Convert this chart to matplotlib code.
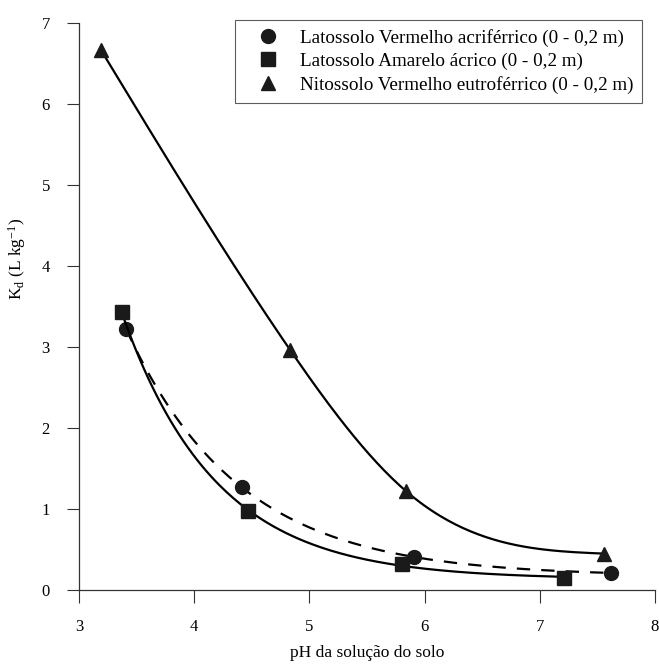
import numpy as np
import matplotlib
matplotlib.use("Agg")
import matplotlib.pyplot as plt

plt.rcParams['font.family'] = ['Liberation Serif', 'DejaVu Serif']
plt.rcParams['mathtext.fontset'] = 'custom'
plt.rcParams['mathtext.rm'] = 'Liberation Serif'
plt.rcParams['mathtext.it'] = 'Liberation Serif'

# Kd vs pH da solução do solo
ph_lva = [3.41, 4.41, 5.91, 7.62]
kd_lva = [3.22, 1.27, 0.41, 0.21]

ph_la = [3.37, 4.47, 5.80, 7.21]
kd_la = [3.43, 0.98, 0.32, 0.15]

ph_nv = [3.19, 4.83, 5.84, 7.56]
kd_nv = [6.67, 2.97, 1.22, 0.45]

labels = ['Latossolo Vermelho acriférrico (0 - 0,2 m)',
          'Latossolo Amarelo ácrico (0 - 0,2 m)',
          'Nitossolo Vermelho eutroférrico (0 - 0,2 m)']


def ajuste_exp(x, y):
    # y = a*exp(-b*x) + c, busca em b e mínimos quadrados em a, c
    x = np.asarray(x, float)
    y = np.asarray(y, float)
    melhor = None
    for b in np.linspace(0.05, 4.0, 4000):
        A = np.column_stack([np.exp(-b * x), np.ones_like(x)])
        coef, *_ = np.linalg.lstsq(A, y, rcond=None)
        sse = np.sum((A @ coef - y) ** 2)
        if melhor is None or sse < melhor[0]:
            melhor = (sse, coef[0], b, coef[1])
    _, a, b, c = melhor
    return lambda t: a * np.exp(-b * t) + c


def spline_natural(x, y):
    # spline cúbica natural (segunda derivada nula nas pontas)
    x = np.asarray(x, float)
    y = np.asarray(y, float)
    n = len(x)
    h = np.diff(x)
    d = np.diff(y) / h
    A = np.zeros((n, n))
    r = np.zeros(n)
    A[0, 0] = A[-1, -1] = 1.0
    for k in range(1, n - 1):
        A[k, k - 1] = h[k - 1]
        A[k, k] = 2 * (h[k - 1] + h[k])
        A[k, k + 1] = h[k]
        r[k] = 6 * (d[k] - d[k - 1])
    M = np.linalg.solve(A, r)

    def f(t):
        t = np.asarray(t, float)
        k = np.clip(np.searchsorted(x, t) - 1, 0, n - 2)
        a = x[k + 1] - t
        b = t - x[k]
        return (M[k] * a**3 / (6 * h[k]) + M[k + 1] * b**3 / (6 * h[k])
                + (y[k] / h[k] - M[k] * h[k] / 6) * a
                + (y[k + 1] / h[k] - M[k + 1] * h[k] / 6) * b)
    return f


fig = plt.figure(figsize=(6.59, 6.66), dpi=100)
ax = fig.add_axes([0.12, 0.114, 0.874, 0.851])

series = [
    (ph_lva, kd_lva, 'o', (0, (6, 5)), 10, ajuste_exp),
    (ph_la, kd_la, 's', '-', 9.5, ajuste_exp),
    (ph_nv, kd_nv, '^', '-', 10, spline_natural),
]

handles = []
for (x, y, mk, ls, ms, ajuste), lab in zip(series, labels):
    f = ajuste(x, y)
    xs = np.linspace(min(x), max(x), 200)
    ax.plot(xs, f(xs), color='black', lw=1.6, linestyle=ls)
    h, = ax.plot(x, y, linestyle='none', marker=mk, ms=ms, color='#1a1a1a',
                 mec='#1a1a1a', label=lab)
    handles.append(h)

ax.set_xlim(3, 8)
ax.set_ylim(0, 7)
ax.set_xticks(range(3, 9))
ax.set_yticks(range(0, 8))
ax.spines['top'].set_visible(False)
ax.spines['right'].set_visible(False)
for s in ('left', 'bottom'):
    ax.spines[s].set_linewidth(0.9)
    ax.spines[s].set_color('#333333')
ax.tick_params(direction='out', length=9, width=0.8, colors='#333333',
               labelsize=12, labelcolor='black', pad=12)

ax.set_xlabel('pH da solução do solo', fontsize=12.5, labelpad=7)
ax.set_ylabel(r'K$_\mathrm{d}$ (L kg$^\mathrm{-1}$)', fontsize=12.5)
ax.yaxis.set_label_coords(-0.088, 0.585)

leg = ax.legend(handles=handles, loc='upper right',
                bbox_to_anchor=(0.977, 1.005), fontsize=13.8, frameon=True,
                fancybox=False, edgecolor='#333333', handlelength=2.5,
                handletextpad=0.42, borderpad=0.45, labelspacing=0.3,
                borderaxespad=0)
leg.get_frame().set_linewidth(0.8)

fig.savefig('out.png', dpi=100)
